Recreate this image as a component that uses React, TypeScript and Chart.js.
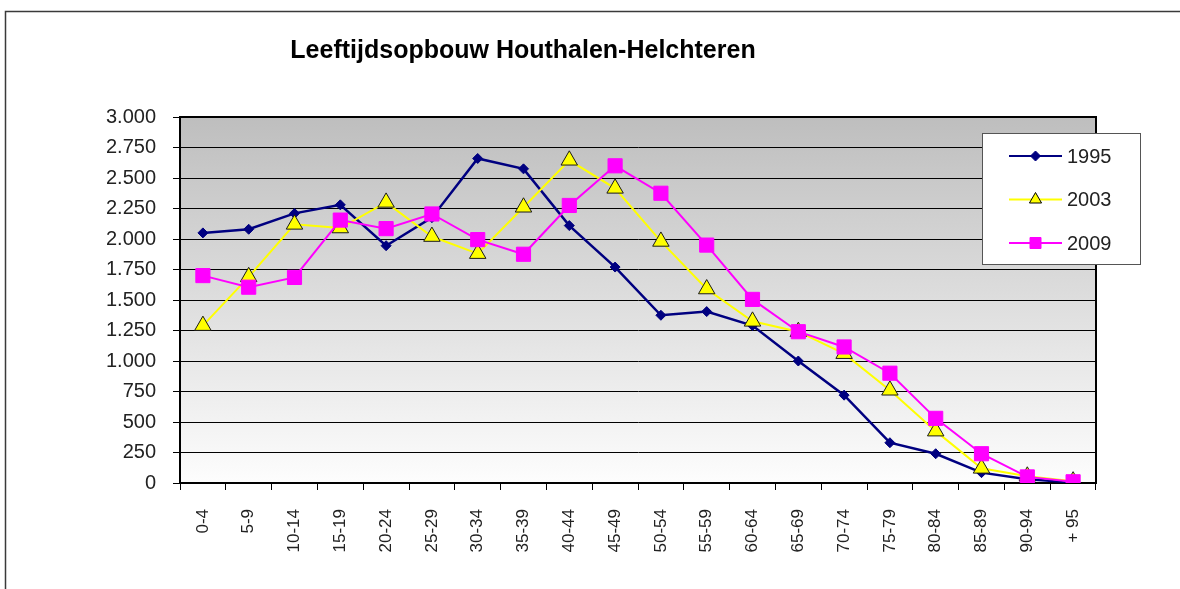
import React, { useEffect, useRef } from 'react';
import { Chart, registerables } from 'chart.js';

Chart.register(...registerables);

const chartTitle = 'Leeftijdsopbouw Houthalen-Helchteren';

const categories = [
  '0-4', '5-9', '10-14', '15-19', '20-24', '25-29', '30-34', '35-39', '40-44', '45-49',
  '50-54', '55-59', '60-64', '65-69', '70-74', '75-79', '80-84', '85-89', '90-94', '+ 95',
];

const seriesNames = ['1995', '2003', '2009'];

const values1995 = [2050, 2080, 2210, 2280, 1945, 2175, 2660, 2575, 2110, 1770, 1375, 1405, 1290, 1000, 720, 330, 240, 85, 30, 5];
const values2003 = [1290, 1690, 2120, 2090, 2300, 2020, 1880, 2260, 2645, 2415, 1980, 1590, 1325, 1240, 1060, 760, 425, 120, 55, 15];
const values2009 = [1700, 1605, 1685, 2155, 2085, 2205, 1995, 1875, 2275, 2600, 2375, 1950, 1505, 1240, 1115, 900, 530, 240, 50, 10];

const yMin = 0;
const yMax = 3000;
const yStep = 250;

const FONT = '"Liberation Sans", Arial, Helvetica, sans-serif';

const colors = ['#000080', '#FFFF00', '#FF00FF'];

function fmtThousands(v: number): string {
  const n = Math.round(v);
  if (n >= 1000) {
    return Math.floor(n / 1000) + '.' + String(n % 1000).padStart(3, '0');
  }
  return String(n);
}

function drawMarker(ctx: CanvasRenderingContext2D, kind: string, x: number, y: number, r: number, fill: string, stroke: string) {
  ctx.beginPath();
  if (kind === 'diamond') {
    ctx.moveTo(x, y - r);
    ctx.lineTo(x + r, y);
    ctx.lineTo(x, y + r);
    ctx.lineTo(x - r, y);
    ctx.closePath();
  } else if (kind === 'triangle') {
    ctx.moveTo(x, y - r);
    ctx.lineTo(x + r * 0.866, y + r * 0.5);
    ctx.lineTo(x - r * 0.866, y + r * 0.5);
    ctx.closePath();
  } else {
    ctx.rect(x - r, y - r, 2 * r, 2 * r);
  }
  ctx.fillStyle = fill;
  ctx.fill();
  ctx.strokeStyle = stroke;
  ctx.lineWidth = 1;
  ctx.stroke();
}

const decorPlugin = {
  id: 'decor',
  beforeDraw(chart: any) {
    const { ctx, chartArea: a } = chart;
    ctx.save();
    ctx.fillStyle = '#ffffff';
    ctx.fillRect(0, 0, chart.width, chart.height);
    const g = ctx.createLinearGradient(0, a.top, 0, a.bottom);
    g.addColorStop(0, '#bebebe');
    g.addColorStop(1, '#fdfdfd');
    ctx.fillStyle = g;
    ctx.fillRect(a.left, a.top, a.right - a.left, a.bottom - a.top);
    // outer frame (top & left)
    ctx.strokeStyle = '#3a3a3a';
    ctx.lineWidth = 1.5;
    ctx.beginPath();
    ctx.moveTo(5.5, chart.height);
    ctx.lineTo(5.5, 11.5);
    ctx.lineTo(chart.width, 11.5);
    ctx.stroke();
    // title
    ctx.fillStyle = '#000';
    ctx.font = 'bold 25px ' + FONT;
    ctx.textAlign = 'center';
    ctx.textBaseline = 'alphabetic';
    ctx.fillText(chartTitle, 523, 58);
    ctx.restore();
  },
  beforeDatasetsDraw(chart: any) {
    const { ctx, chartArea: a } = chart;
    ctx.save();
    ctx.strokeStyle = '#000';
    ctx.lineWidth = 2;
    ctx.beginPath();
    ctx.moveTo(a.left, a.top);
    ctx.lineTo(a.right, a.top);
    ctx.lineTo(a.right, a.bottom);
    ctx.stroke();
    ctx.restore();
  },
  afterDraw(chart: any) {
    const { ctx, chartArea: a } = chart;
    ctx.save();
    const bx = a.right - 114;
    const by = a.top + 16;
    const bw = 158;
    const bh = 131;
    ctx.fillStyle = '#ffffff';
    ctx.fillRect(bx, by, bw, bh);
    ctx.strokeStyle = '#555';
    ctx.lineWidth = 1;
    ctx.strokeRect(bx + 0.5, by + 0.5, bw, bh);
    const kinds = ['diamond', 'triangle', 'square'];
    const markerFill = colors;
    const markerStroke = ['#000080', '#000000', '#FF00FF'];
    const sizes = [5, 7, 5.5];
    ctx.font = '20px ' + FONT;
    ctx.textBaseline = 'middle';
    ctx.textAlign = 'left';
    seriesNames.forEach((name, i) => {
      const cy = by + 23 + i * 43.5;
      const lx0 = bx + 27;
      const lx1 = bx + 80;
      ctx.strokeStyle = colors[i];
      ctx.lineWidth = 2;
      ctx.beginPath();
      ctx.moveTo(lx0, cy);
      ctx.lineTo(lx1, cy);
      ctx.stroke();
      drawMarker(ctx, kinds[i], (lx0 + lx1) / 2, cy, sizes[i], markerFill[i], markerStroke[i]);
      ctx.fillStyle = '#222';
      ctx.fillText(name, bx + 85, cy + 1);
    });
    ctx.restore();
  },
};

export default function App() {
  const canvasRef = useRef<HTMLCanvasElement | null>(null);

  useEffect(() => {
    const canvas = canvasRef.current;
    if (!canvas) return;
    const chart = new Chart(canvas, {
      type: 'line',
      data: {
        labels: categories,
        datasets: [
          {
            label: seriesNames[0],
            data: values1995,
            borderColor: colors[0],
            backgroundColor: colors[0],
            borderWidth: 2.5,
            pointStyle: 'rectRot',
            pointRadius: 5,
            pointBorderColor: colors[0],
            pointBackgroundColor: colors[0],
            pointBorderWidth: 1,
            tension: 0,
            order: 3,
          },
          {
            label: seriesNames[1],
            data: values2003,
            borderColor: colors[1],
            backgroundColor: colors[1],
            borderWidth: 2,
            pointStyle: 'triangle',
            pointRadius: 9.5,
            pointBorderColor: '#1a1a1a',
            pointBackgroundColor: colors[1],
            pointBorderWidth: 1,
            tension: 0,
            order: 2,
          },
          {
            label: seriesNames[2],
            data: values2009,
            borderColor: colors[2],
            backgroundColor: colors[2],
            borderWidth: 2,
            pointStyle: 'rect',
            pointRadius: 10,
            pointBorderColor: colors[2],
            pointBackgroundColor: colors[2],
            pointBorderWidth: 1,
            tension: 0,
            order: 1,
          },
        ],
      },
      options: {
        responsive: false,
        animation: false,
        events: [],
        layout: { padding: { top: 117, right: 84, left: 0, bottom: 0 } },
        plugins: {
          legend: { display: false },
          title: { display: false },
          tooltip: { enabled: false },
        },
        scales: {
          x: {
            type: 'category',
            offset: true,
            grid: {
              display: true,
              offset: true,
              drawOnChartArea: false,
              drawTicks: true,
              tickLength: 7,
              color: '#000',
              lineWidth: 1,
            },
            border: { display: true, color: '#000', width: 2 },
            ticks: {
              autoSkip: false,
              minRotation: 90,
              maxRotation: 90,
              padding: 19,
              color: '#222',
              font: { family: FONT, size: 17 },
            },
            afterFit(scale: any) {
              scale.height = 106;
            },
          },
          y: {
            min: yMin,
            max: yMax,
            ticks: {
              stepSize: yStep,
              padding: 17,
              color: '#222',
              font: { family: FONT, size: 20 },
              callback: (v: any) => fmtThousands(Number(v)),
            },
            grid: { color: '#000', lineWidth: 1, tickLength: 7, drawTicks: true },
            border: { display: true, color: '#000', width: 2 },
            afterFit(scale: any) {
              scale.width = 180;
            },
          },
        },
      } as any,
      plugins: [decorPlugin],
    });
    return () => chart.destroy();
  }, []);

  return (
    <div style={{ position: 'fixed', left: 0, top: 0, width: 1180, height: 589, background: '#fff' }}>
      <canvas ref={canvasRef} width={1180} height={589} style={{ display: 'block', width: 1180, height: 589 }} />
    </div>
  );
}
